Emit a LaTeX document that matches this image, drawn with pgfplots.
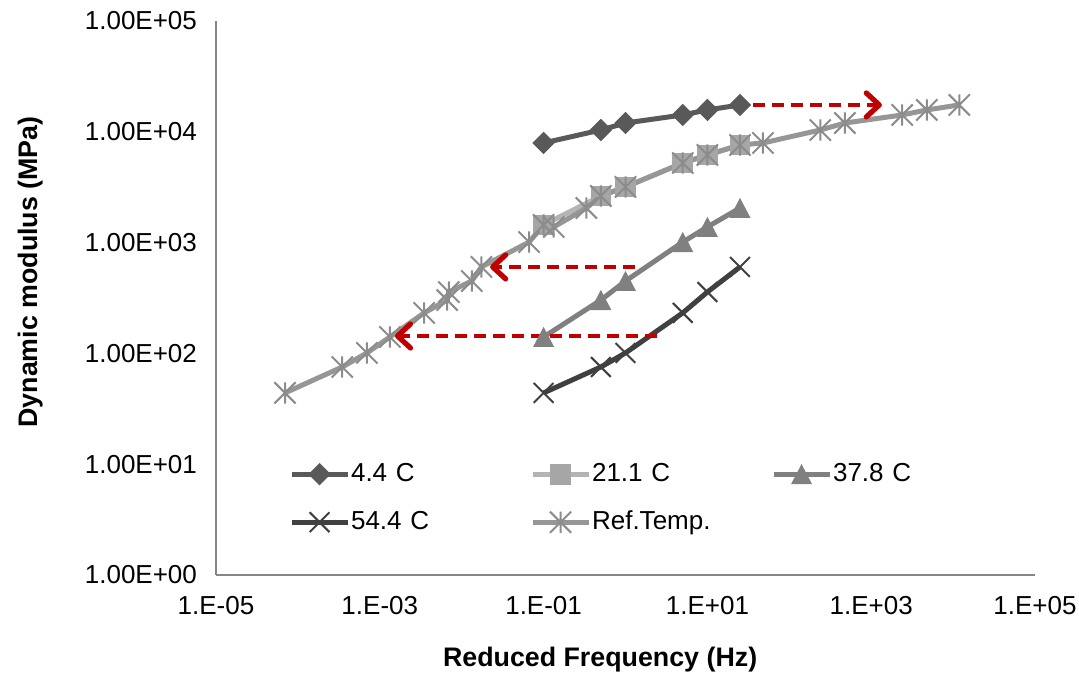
\documentclass[border=0pt]{standalone}
\usepackage{pgfplots}
\pgfplotsset{compat=1.18}
\usepackage{fontspec}
\setmainfont{Liberation Sans}
\usetikzlibrary{arrows.meta}
\definecolor{c44}{HTML}{595959}
\definecolor{c21}{HTML}{A6A6A6}
\definecolor{c21l}{HTML}{B4B4B4}
\definecolor{c37}{HTML}{808080}
\definecolor{c54}{HTML}{404040}
\definecolor{cref}{HTML}{969696}
\definecolor{crefm}{HTML}{8C8C8C}
\definecolor{arr}{HTML}{C00000}
\definecolor{axc}{HTML}{868686}
\pgfdeclareplotmark{xast}{%
  \pgfpathmoveto{\pgfqpoint{-\pgfplotmarksize}{-\pgfplotmarksize}}%
  \pgfpathlineto{\pgfqpoint{\pgfplotmarksize}{\pgfplotmarksize}}%
  \pgfpathmoveto{\pgfqpoint{-\pgfplotmarksize}{\pgfplotmarksize}}%
  \pgfpathlineto{\pgfqpoint{\pgfplotmarksize}{-\pgfplotmarksize}}%
  \pgfpathmoveto{\pgfqpoint{0pt}{-\pgfplotmarksize}}%
  \pgfpathlineto{\pgfqpoint{0pt}{\pgfplotmarksize}}%
  \pgfusepathqstroke}
\begin{document}
\begin{tikzpicture}
\path[use as bounding box] (-108pt,-50pt) rectangle (431.5pt,287.5pt);
\begin{axis}[
  scale only axis, width=409.5pt, height=277pt,
  xmode=log, ymode=log,
  xmin=1e-5, xmax=1e5, ymin=1, ymax=1e5,
  axis x line=bottom, axis y line=left,
  axis line style={draw=axc, line width=0.6pt, -},
  xtick={1e-5,1e-3,1e-1,1e1,1e3,1e5},
  xticklabels={1.E-05,1.E-03,1.E-01,1.E+01,1.E+03,1.E+05},
  ytick={1,10,100,1000,10000,100000},
  yticklabels={1.00E+00,1.00E+01,1.00E+02,1.00E+03,1.00E+04,1.00E+05},
  major tick length=0pt, minor tick length=0pt,
  tick label style={font=\fontsize{13}{15}\selectfont},
  xticklabel style={yshift=-7pt},
  yticklabel style={xshift=-6pt},
  xlabel={Reduced Frequency (Hz)},
  ylabel={Dynamic modulus (MPa)},
  label style={font=\bfseries\fontsize{13.4}{16}\selectfont},
  x label style={at={(axis description cs:0.469,-0.1534)}, anchor=center},
  y label style={at={(axis description cs:-0.227,0.547)}, anchor=center},
  clip=false,
  legend columns=3,
  legend cell align=left,
  legend image code/.code={\draw[mark repeat=2,mark phase=2] plot coordinates {(0pt,0pt) (14pt,0pt) (28pt,0pt)};},
  legend style={draw=none, fill=none, at={(axis description cs:0.0892,0.2054)}, anchor=north west,
    inner sep=0pt, outer sep=0pt, row sep=11pt, column sep=0pt,
    font=\fontsize{13}{15}\selectfont,
    nodes={inner sep=0.5pt, text height=9.5pt, text depth=2.5pt, text width=89pt, align=left}},
]
\addplot[c44, line width=2.5pt, mark=square*, mark size=3.7pt,
  mark options={solid, rotate=45, fill=c44, line width=0.5pt}]
  coordinates {(0.1,7930) (0.5,10380) (1,12000) (5,14190) (10,15750) (25,17470)};
\addlegendentry{4.4 C}
\addplot[c21l, line width=2.5pt, mark=square*, mark size=4.9pt,
  mark options={solid, fill=c21, draw=c21, line width=0.5pt}]
  coordinates {(0.1,1443) (0.5,2635) (1,3180) (5,5230) (10,6180) (25,7600)};
\addlegendentry{21.1 C}
\addplot[c37, line width=2.5pt, mark=triangle*, mark size=5.6pt,
  mark options={solid, fill=c37, line width=0.5pt, yscale=1.1, yshift=-1.5pt}]
  coordinates {(0.1,140.6) (0.5,303) (1,450) (5,1011) (10,1384) (25,2051)};
\addlegendentry{37.8 C}
\addplot[c54, line width=2.5pt, mark=x, mark size=7pt,
  mark options={solid, line width=1pt}]
  coordinates {(0.1,44) (0.5,75.4) (1,101) (5,232) (10,358) (25,603)};
\addlegendentry{54.4 C}
\addplot[cref, line width=2.5pt, mark=xast, mark size=5.3pt,
  mark options={solid, draw=crefm, line width=1pt}]
  coordinates {(6.96e-5,44) (3.48e-4,75.4) (6.96e-4,101) (1.33e-3,140.6)
    (3.48e-3,232) (6.65e-3,303) (6.96e-3,358) (1.33e-2,450) (1.74e-2,603)
    (6.65e-2,1011) (0.1,1443) (0.133,1384) (0.333,2051) (0.5,2635) (1,3180)
    (5,5230) (10,6180) (25,7600) (47.7,7930) (239,10380) (477,12000)
    (2390,14190) (4770,15750) (11900,17470)};
\addlegendentry{Ref.Temp.}
\addplot[arr, line width=2.2pt, dash pattern=on 6pt off 3.5pt,
  -{Straight Barb[length=6.5pt,width=12pt,line width=2.6pt,round]}, forget plot]
  coordinates {(36,17470) (1350,17470)};
\addplot[arr, line width=2.2pt, dash pattern=on 6pt off 3.5pt,
  -{Straight Barb[length=6.5pt,width=12pt,line width=2.6pt,round]}, forget plot]
  coordinates {(1.31,603) (0.0222,603)};
\addplot[arr, line width=2.2pt, dash pattern=on 6pt off 3.5pt,
  -{Straight Barb[length=6.5pt,width=12pt,line width=2.6pt,round]}, forget plot]
  coordinates {(2.43,143.6) (0.00153,143.6)};
\end{axis}
\end{tikzpicture}
\end{document}
